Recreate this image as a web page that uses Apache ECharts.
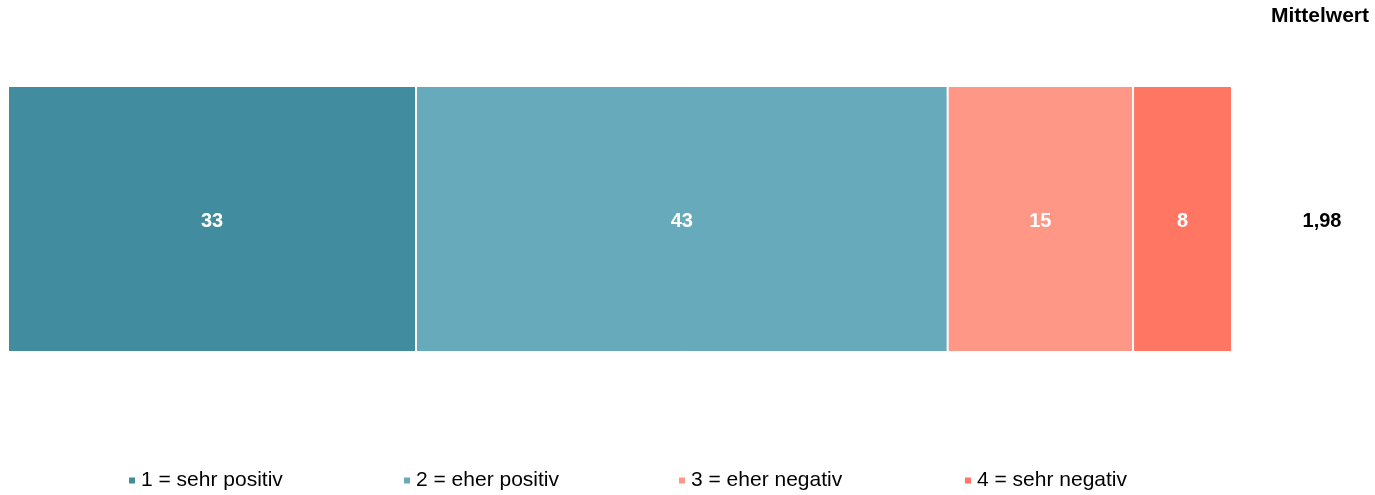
<!DOCTYPE html>
<html><head><meta charset="utf-8">
<script src="https://cdn.jsdelivr.net/npm/echarts@6/dist/echarts.min.js"></script>
<style>html,body{margin:0;padding:0;background:#fff}#c{width:1375px;height:495px}</style>
</head><body><div id="c"></div>
<script>
const categories = ['Gesamt'];
const seriesNames = ['1 = sehr positiv', '2 = eher positiv', '3 = eher negativ', '4 = sehr negativ'];
const values = [[33], [43], [15], [8]];
const colors = ['#418C9E', '#66AABB', '#FF9787', '#FF7662'];
const meanLabel = 'Mittelwert';
const meanValues = ['1,98'];
const legendLeft = [122, 397, 672, 958];

const chart = echarts.init(document.getElementById('c'));
const font = '"Liberation Sans", Arial, sans-serif';
const series = seriesNames.map((n, i) => ({
  name: n, type: 'bar', stack: 's', data: values[i], barWidth: '100%',
  itemStyle: { color: colors[i], borderColor: '#fff', borderWidth: 1 },
  label: { show: true, position: 'inside', offset: [0, 2], color: '#fff', fontWeight: 'bold', fontSize: 20, fontFamily: font },
  emphasis: { disabled: true }
}));
chart.setOption({
  animation: false,
  grid: { left: 8, right: 143, top: 86, bottom: 143 },
  xAxis: { type: 'value', min: 0, max: 99, show: false },
  yAxis: { type: 'category', data: categories, show: false },
  legend: seriesNames.map((n, i) => ({
    data: [n], left: legendLeft[i], top: 465, itemWidth: 8, itemHeight: 8, itemGap: 6,
    icon: 'rect', textStyle: { fontSize: 21, color: '#000', fontFamily: font }, selectedMode: false
  })),
  graphic: [
    { type: 'text', right: 6, top: 6, style: { text: meanLabel, font: 'bold 21px ' + font, fill: '#000' } },
    { type: 'text', x: 1322, y: 221, style: { text: meanValues[0], font: 'bold 20px ' + font, fill: '#000', align: 'center', verticalAlign: 'middle' } }
  ],
  series: series
});
</script></body></html>
